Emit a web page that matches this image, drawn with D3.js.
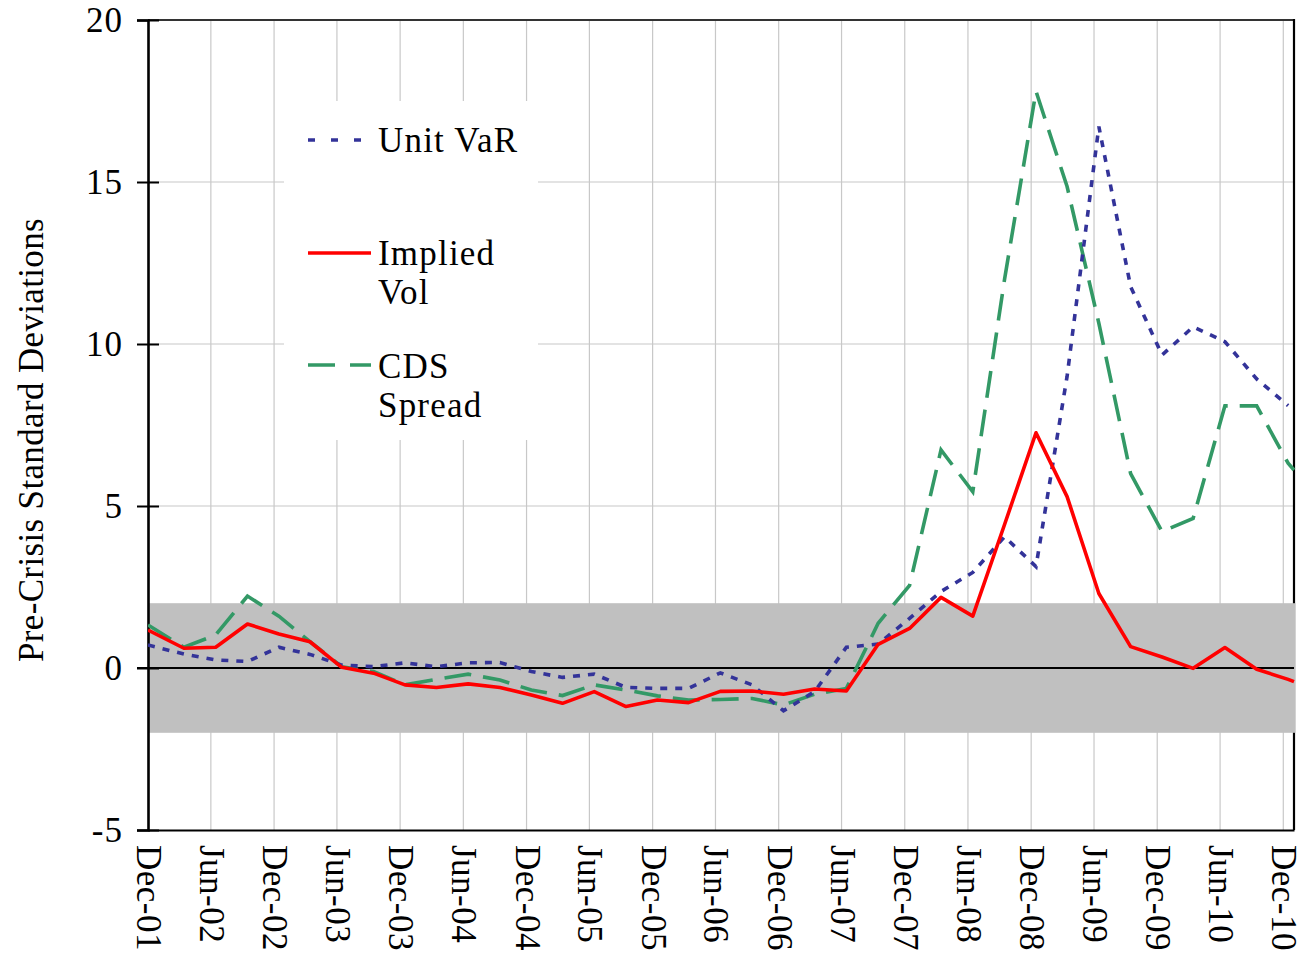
<!DOCTYPE html>
<html><head><meta charset="utf-8">
<script src="https://cdn.jsdelivr.net/npm/d3@7"></script>
<style>
html,body{margin:0;padding:0;background:#fff;}
svg{display:block;font-family:"Liberation Serif","Times New Roman",serif;}
</style></head>
<body><svg id="chart" width="1306" height="960"></svg>
<script>
// Quarterly observation dates (last one = right edge of the plot, clipped segment)
const dates = ["2001-12-01","2002-03-15","2002-06-15","2002-09-15","2002-12-15","2003-03-15","2003-06-15","2003-09-15","2003-12-15",
"2004-03-15","2004-06-15","2004-09-15","2004-12-15","2005-03-15","2005-06-15","2005-09-15","2005-12-15",
"2006-03-15","2006-06-15","2006-09-15","2006-12-15","2007-03-15","2007-06-15","2007-09-15","2007-12-15",
"2008-03-15","2008-06-15","2008-09-15","2008-12-15","2009-03-15","2009-06-15","2009-09-15","2009-12-15",
"2010-03-15","2010-06-15","2010-09-15","2010-12-15","2011-01-01"];
const unitVaR = [0.71,0.43,0.25,0.20,0.64,0.42,0.09,0.04,0.16,
0.04,0.16,0.17,-0.11,-0.29,-0.19,-0.60,-0.63,
-0.63,-0.15,-0.52,-1.32,-0.73,0.64,0.74,1.53,
2.36,2.95,4.05,3.13,9.0,16.71,11.77,9.66,
10.53,10.07,8.92,8.1,null];
const impliedVol = [1.17,0.61,0.64,1.36,1.05,0.81,0.02,-0.16,-0.52,
-0.60,-0.49,-0.60,-0.83,-1.09,-0.73,-1.19,-0.99,
-1.07,-0.72,-0.71,-0.81,-0.65,-0.71,0.73,1.22,
2.18,1.60,4.43,7.26,5.29,2.30,0.66,0.34,
-0.01,0.63,-0.04,-0.35,-0.42];
const cdsSpread = [1.33,0.64,1.02,2.22,1.60,0.81,0.04,-0.11,-0.52,
-0.35,-0.19,-0.37,-0.68,-0.85,-0.52,-0.68,-0.86,
-0.99,-0.97,-0.94,-1.14,-0.81,-0.63,1.38,2.55,
6.73,5.44,12.0,17.8,14.86,10.64,6.0,4.21,
4.62,8.09,8.09,6.32,6.11];
const tickLabels = ["Dec-01","Jun-02","Dec-02","Jun-03","Dec-03","Jun-04","Dec-04","Jun-05","Dec-05",
"Jun-06","Dec-06","Jun-07","Dec-07","Jun-08","Dec-08","Jun-09","Dec-09","Jun-10","Dec-10"];
const yTicks = [-5,0,5,10,15,20];
const yTickLabels = ["-5","0","5","10","15","20"];
const bandRange = [-2,2];
const seriesNames = ["Unit VaR","Implied Vol","CDS Spread"];

const parseDate = d3.timeParse("%Y-%m-%d");
const parseTick = d3.timeParse("%b-%y");
const svg = d3.select("#chart");
const L = 148, R = 1294, T = 20, B = 830;
const x = d3.scaleTime().domain([parseDate("2001-12-01"), parseDate("2011-01-01")]).range([L, R]);
const y = d3.scaleLinear().domain([-5, 20]).range([B, T]);
const FS = 35;

// clip
svg.append("defs").append("clipPath").attr("id","clip")
  .append("rect").attr("x",L).attr("y",T-5).attr("width",R-L+2).attr("height",B-T+10);

// gridlines
const tickDates = tickLabels.map(parseTick);
svg.append("g").selectAll("line").data(tickDates.slice(1)).join("line")
  .attr("x1",d=>x(d)).attr("x2",d=>x(d)).attr("y1",T).attr("y2",B)
  .attr("stroke","#c8c8c8").attr("stroke-width",1.2);
svg.append("g").selectAll("line").data([5,10,15]).join("line")
  .attr("x1",L).attr("x2",R).attr("y1",d=>y(d)).attr("y2",d=>y(d))
  .attr("stroke","#c8c8c8").attr("stroke-width",1.2);

// plot border (top and right)
svg.append("line").attr("x1",L).attr("x2",R).attr("y1",T).attr("y2",T).attr("stroke","#333").attr("stroke-width",2);
svg.append("line").attr("x1",R).attr("x2",R).attr("y1",T-1).attr("y2",B).attr("stroke","#000").attr("stroke-width",2.2);

// grey band
svg.append("rect").attr("x",L).attr("width",R-L+1.5)
  .attr("y",y(bandRange[1])).attr("height",y(bandRange[0])-y(bandRange[1]))
  .attr("fill","#c0c0c0");

// zero line
svg.append("line").attr("x1",L-11).attr("x2",R).attr("y1",y(0)).attr("y2",y(0))
  .attr("stroke","#000").attr("stroke-width",2);

// y axis
const yAxis = d3.axisLeft(y).tickValues(yTicks).tickSize(11).tickPadding(15).tickFormat((d,i)=>yTickLabels[i]);
const gy = svg.append("g").attr("transform",`translate(${L},0)`).call(yAxis);
gy.select(".domain").attr("stroke","#000").attr("stroke-width",2.6);
gy.selectAll(".tick line").attr("stroke","#000").attr("stroke-width",2).attr("x2",-11).attr("x1",11);
gy.selectAll(".tick text").attr("font-size",FS).attr("font-family","Liberation Serif").attr("fill","#000")
  .attr("letter-spacing","1px").attr("dx","1px");

// x axis
const xAxis = d3.axisBottom(x).tickValues(tickDates).tickSize(0).tickFormat((d,i)=>tickLabels[i]);
const gx = svg.append("g").attr("transform",`translate(0,${B})`).call(xAxis);
gx.select(".domain").attr("stroke","#000").attr("stroke-width",2.2);
gx.selectAll(".tick text").attr("font-size",FS).attr("font-family","Liberation Serif").attr("fill","#000")
  .attr("text-anchor","start").attr("dy",null).attr("y",null).attr("letter-spacing","0.5px")
  .attr("transform","translate(0,15) rotate(90)").attr("dominant-baseline","central");

// series
const dts = dates.map(parseDate);
const mk = arr => d3.line().defined((d,i)=>arr[i]!==null).x((d,i)=>x(dts[i])).y((d,i)=>y(arr[i]));
const gs = svg.append("g").attr("clip-path","url(#clip)");
gs.append("path").attr("d",mk(cdsSpread)(dts)).attr("fill","none").attr("stroke","#339966")
  .attr("stroke-width",3.6).attr("stroke-dasharray","27,12").attr("stroke-linejoin","miter");
gs.append("path").attr("d",mk(unitVaR)(dts)).attr("fill","none").attr("stroke","#333399")
  .attr("stroke-width",3.6).attr("stroke-dasharray","7,8");
gs.append("path").attr("d",mk(impliedVol)(dts)).attr("fill","none").attr("stroke","#ff0000")
  .attr("stroke-width",3.6).attr("stroke-linejoin","round");

// legend
const lg = svg.append("g");
lg.append("rect").attr("x",284).attr("y",101).attr("width",254).attr("height",339).attr("fill","#fff");
const items = [
  {name:seriesNames[0], lines:["Unit VaR"], color:"#333399", dash:"7,16", ly:140, ty:[152]},
  {name:seriesNames[1], lines:["Implied","Vol"], color:"#ff0000", dash:null, ly:253, ty:[265,304]},
  {name:seriesNames[2], lines:["CDS","Spread"], color:"#339966", dash:"27,15", ly:365, ty:[378,417]}
];
items.forEach(it=>{
  lg.append("line").attr("x1",308).attr("x2",371).attr("y1",it.ly).attr("y2",it.ly)
    .attr("stroke",it.color).attr("stroke-width",3.6).attr("stroke-dasharray",it.dash);
  it.lines.forEach((t,j)=>{
    lg.append("text").attr("x",378).attr("y",it.ty[j]).attr("font-size",FS).attr("fill","#000")
      .attr("letter-spacing","1.2px").text(t);
  });
});

// y title
svg.append("text").attr("transform","translate(43,440) rotate(-90)").attr("text-anchor","middle")
  .attr("font-size",FS).attr("letter-spacing","0.35px").attr("fill","#000").text("Pre-Crisis Standard Deviations");
</script></body></html>
